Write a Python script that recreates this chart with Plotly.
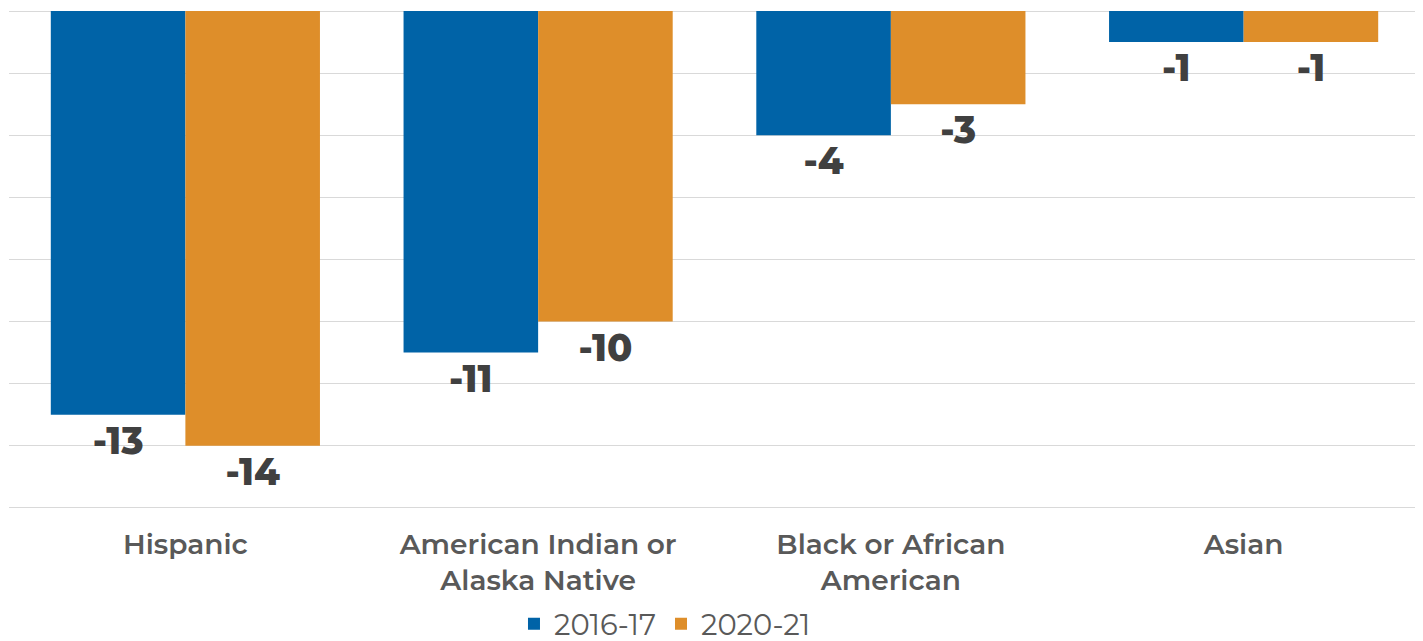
import plotly.graph_objects as go

categories = ["Hispanic", "American Indian or<br>Alaska Native", "Black or African<br>American", "Asian"]
series_names = ["2016-17", "2020-21"]
values_2016 = [-13, -11, -4, -1]
values_2020 = [-14, -10, -3, -1]
colors = ["#0063A7", "#DE8E2A"]

FONT = "Montserrat, Lato, Open Sans, sans-serif"

fig = go.Figure()
for name, vals, col in zip(series_names, [values_2016, values_2020], colors):
    fig.add_trace(go.Bar(
        x=categories, y=vals, name=name,
        marker=dict(color=col, line=dict(width=0)),
        text=[str(v) for v in vals], textposition="outside",
        textfont=dict(family=FONT, size=37, color="#404040", weight=800),
        cliponaxis=False,
    ))

fig.update_layout(
    width=1415, height=633,
    margin=dict(l=1, r=3, t=3, b=130, autoexpand=False),
    barmode="group", bargap=0.237, bargroupgap=0,
    plot_bgcolor="white", paper_bgcolor="white",
    showlegend=True,
    legend=dict(orientation="h", x=0.4643, xanchor="center", xref="container",
                y=0.027, yanchor="middle", yref="container",
                font=dict(family=FONT, size=29, color="#595959"),
                itemwidth=30, traceorder="normal"),
)
fig.update_xaxes(
    showline=False, ticks="", ticklabelstandoff=14, automargin=False,
    tickfont=dict(family=FONT, size=28, color="#595959", weight=600),
)
fig.update_yaxes(
    range=[-16.1, 0], dtick=2, showticklabels=False, showgrid=True, automargin=False,
    gridcolor="#D9D9D9", gridwidth=1, zeroline=True, zerolinecolor="#D9D9D9", zerolinewidth=1,
)
fig.write_html("out.html")
